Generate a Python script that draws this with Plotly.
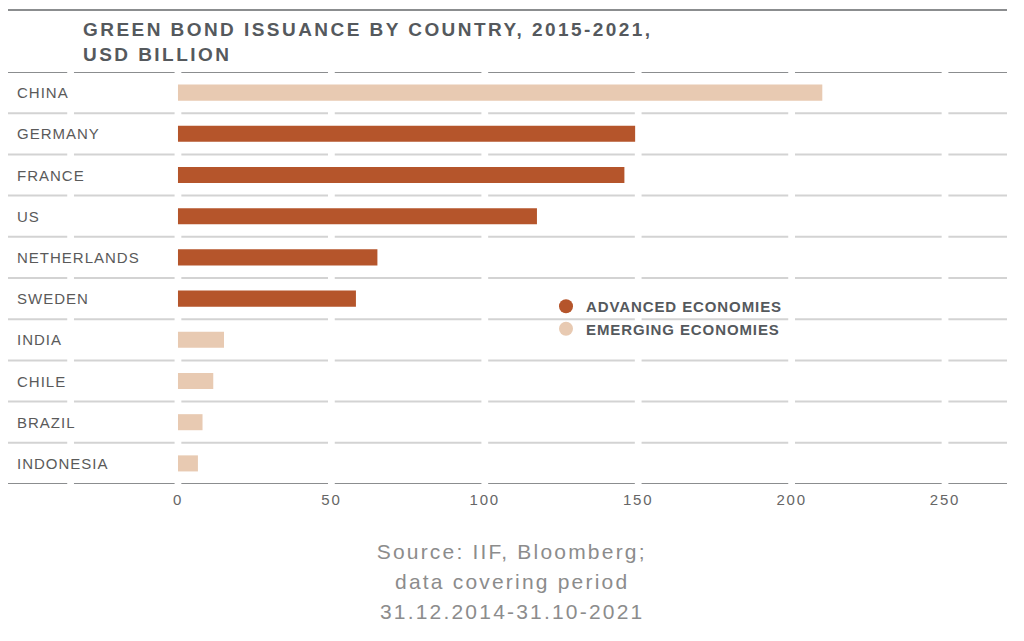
import json
import plotly.graph_objects as go

# ---------------- data ----------------
countries = ["CHINA", "GERMANY", "FRANCE", "US", "NETHERLANDS",
             "SWEDEN", "INDIA", "CHILE", "BRAZIL", "INDONESIA"]
values = [210, 149, 145.5, 117, 65, 58, 15, 11.5, 8, 6.5]
groups = ["EMERGING ECONOMIES", "ADVANCED ECONOMIES", "ADVANCED ECONOMIES",
          "ADVANCED ECONOMIES", "ADVANCED ECONOMIES", "ADVANCED ECONOMIES",
          "EMERGING ECONOMIES", "EMERGING ECONOMIES", "EMERGING ECONOMIES",
          "EMERGING ECONOMIES"]
series_names = ["ADVANCED ECONOMIES", "EMERGING ECONOMIES"]
x_ticks = [0, 50, 100, 150, 200, 250]
title_lines = ["GREEN BOND ISSUANCE BY COUNTRY, 2015-2021,", "USD BILLION"]
source_lines = ["Source: IIF, Bloomberg;", "data covering period", "31.12.2014-31.10-2021"]

# ---------------- style ----------------
colors = {"ADVANCED ECONOMIES": "#B5552B", "EMERGING ECONOMIES": "#E8CAB2"}
W, H = 1024, 641
ml, mr, mt, mb = 8, 17, 72, 157
pw, ph = W - ml - mr, H - mt - mb
x_min, x_max = -55.4, 270.2
FONT = "Liberation Sans"

def px_x(p):
    return (p - ml) / pw

def px_y(p):
    return (H - mb - p) / ph

fig = go.Figure()

for name in series_names:
    ys = [c for c, g in zip(countries, groups) if g == name]
    xs = [v for v, g in zip(values, groups) if g == name]
    fig.add_trace(go.Bar(
        x=xs, y=ys, orientation="h", width=0.39,
        marker=dict(color=colors[name], line=dict(width=0)),
        showlegend=False, name=name, hoverinfo="x+y",
    ))
    # legend entry with round marker
    fig.add_trace(go.Scatter(
        x=[None], y=[None], mode="markers", name=name,
        marker=dict(symbol="circle", size=14, color=colors[name]),
        showlegend=True,
    ))

# segmented horizontal rules between rows
gap_positions = [-35] + x_ticks
half_gap = 1.1
edges = [x_min] + [e for g in gap_positions for e in (g - half_gap, g + half_gap)] + [x_max]
segments = [(edges[i], edges[i + 1]) for i in range(0, len(edges), 2)]
n = len(countries)
for k in range(n + 1):
    yb = k - 0.5
    outer = k in (0, n)
    for a, b in segments:
        fig.add_shape(type="line", xref="x", yref="y", x0=a, x1=b, y0=yb, y1=yb,
                      line=dict(color="#8b8d8f" if outer else "#d3d3d3", width=2),
                      layer="above")

# top rule above title
fig.add_shape(type="line", xref="x", yref="paper", x0=x_min, x1=x_max,
              y0=px_y(10), y1=px_y(10), line=dict(color="#8b8d8f", width=2))

annotations = []
spacing = []
# title
annotations.append(dict(text="<br>".join(title_lines), xref="paper", yref="paper",
                        x=px_x(81), y=px_y(42), xanchor="left", yanchor="middle",
                        align="left", showarrow=False,
                        font=dict(family=FONT, size=19, color="#55595d", weight=700)))
spacing.append(2.45)
# category labels
for c in countries:
    annotations.append(dict(text=c, xref="paper", yref="y", x=px_x(15), y=c,
                            xanchor="left", yanchor="middle", align="left",
                            showarrow=False,
                            font=dict(family=FONT, size=15, color="#5a5a5a")))
    spacing.append(1.0)
# source
for i, s in enumerate(source_lines):
    annotations.append(dict(text=s, xref="paper", yref="paper", x=px_x(512),
                            y=px_y(551 + 30 * i), xanchor="center", yanchor="middle",
                            showarrow=False,
                            font=dict(family=FONT, size=21, color="#8c8c8c")))
    spacing.append(2.2)

fig.update_layout(
    width=W, height=H, autosize=False,
    margin=dict(l=ml, r=mr, t=mt, b=mb),
    paper_bgcolor="white", plot_bgcolor="white",
    font=dict(family=FONT, color="#666666"),
    xaxis=dict(range=[x_min, x_max], tickvals=x_ticks, ticktext=[str(t) for t in x_ticks],
               showgrid=False, zeroline=False, showline=False, ticks="",
               ticklabelstandoff=5,
               tickfont=dict(family=FONT, size=15, color="#666666"), fixedrange=True),
    yaxis=dict(type="category", categoryorder="array", categoryarray=countries,
               range=[n - 0.5, -0.5], showticklabels=False, showgrid=False,
               zeroline=False, showline=False, ticks="", fixedrange=True),
    legend=dict(x=px_x(546), y=px_y(290), xanchor="left", yanchor="top",
                bgcolor="rgba(0,0,0,0)", borderwidth=0, itemsizing="trace",
                tracegroupgap=0, entrywidth=260, entrywidthmode="pixels",
                font=dict(family=FONT, size=15, color="#55595d", weight=700)),
    annotations=annotations,
    bargap=0.6,
)

post = """
document.body.style.margin = '0';
document.body.style.padding = '0';
var gd = document.getElementById('{plot_id}');
var sp = %s;
gd.querySelectorAll('g.annotation').forEach(function(g){
  var i = parseInt(g.getAttribute('data-index'));
  g.querySelectorAll('text').forEach(function(t){ t.style.letterSpacing = sp[i] + 'px'; });
});
gd.querySelectorAll('.legend [clip-path]').forEach(function(e){ e.removeAttribute('clip-path'); });
gd.querySelectorAll('.legendtext').forEach(function(t){ t.style.letterSpacing = '0.9px'; });
gd.querySelectorAll('.xtick text').forEach(function(t){ t.style.letterSpacing = '1.8px'; });
""" % json.dumps(spacing)

fig.write_html("out.html", post_script=post, config={"displayModeBar": False})
